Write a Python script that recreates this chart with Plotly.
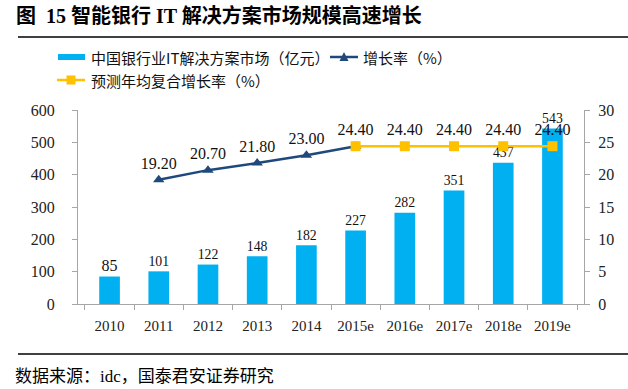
import plotly.graph_objects as go

years = ["2010", "2011", "2012", "2013", "2014", "2015e", "2016e", "2017e", "2018e", "2019e"]
market = [85, 101, 122, 148, 182, 227, 282, 351, 437, 543]
growth = [None, 19.20, 20.70, 21.80, 23.00, 24.40, None, None, None, None]
cagr = [None, None, None, None, None, 24.40, 24.40, 24.40, 24.40, 24.40]

W, H = 628, 389
L, R, T, B = 78, 44, 110, 85
PW, PH = W - L - R, H - T - B

def px(x):
    return (x - L) / PW

def py(y):
    return (H - B - y) / PH

FONT = "Liberation Serif"
CJK = "Noto Sans CJK SC"
BAR_C = "#00B0F0"
NAVY = "#1F497D"
GOLD = "#FFC000"
AX = "#A6A6A6"

fig = go.Figure()
fig.add_trace(go.Bar(
    x=years, y=market, marker=dict(color=BAR_C, line=dict(width=0)),
    text=[str(v) for v in market], textposition="outside", cliponaxis=False,
    textfont=dict(family=FONT, size=16, color="#111"), showlegend=False,
))
fig.add_trace(go.Scatter(
    x=years, y=growth, yaxis="y2", mode="lines+markers+text",
    line=dict(color=NAVY, width=2.5), marker=dict(symbol="triangle-up", size=10, color=NAVY),
    text=[("%.2f" % v) if (v is not None and i < 5) else "" for i, v in enumerate(growth)],
    textposition="top center", textfont=dict(family=FONT, size=16, color="#111"),
    cliponaxis=False, showlegend=False,
))
fig.add_trace(go.Scatter(
    x=years, y=cagr, yaxis="y2", mode="lines+markers+text",
    line=dict(color=GOLD, width=2.5), marker=dict(symbol="square", size=10, color=GOLD),
    text=[("%.2f" % v) if v is not None else "" for v in cagr],
    textposition="top center", textfont=dict(family=FONT, size=16, color="#111"),
    cliponaxis=False, showlegend=False,
))

shapes = [
    dict(type="line", xref="paper", yref="paper", x0=px(18), x1=px(628), y0=py(37), y1=py(37),
         line=dict(color="#000", width=1.5)),
    dict(type="line", xref="paper", yref="paper", x0=px(18), x1=px(628), y0=py(354), y1=py(354),
         line=dict(color="#000", width=1.5)),
    dict(type="rect", xref="paper", yref="paper", x0=px(58), x1=px(85), y0=py(60), y1=py(54),
         fillcolor=BAR_C, line=dict(width=0)),
    dict(type="line", xref="paper", yref="paper", x0=px(330), x1=px(358), y0=py(57), y1=py(57),
         line=dict(color=NAVY, width=2.5)),
    dict(type="line", xref="paper", yref="paper", x0=px(57), x1=px(85), y0=py(80), y1=py(80),
         line=dict(color=GOLD, width=2.5)),
    dict(type="rect", xref="paper", yref="paper", x0=px(66.5), x1=px(75.5), y0=py(84.5), y1=py(75.5),
         fillcolor=GOLD, line=dict(width=0)),
    dict(type="path", xref="paper", yref="paper",
         path="M %f %f L %f %f L %f %f Z" % (px(339.5), py(61), px(348.5), py(61), px(344), py(52)),
         fillcolor=NAVY, line=dict(width=0)),
]

annotations = [
    dict(text="<b>图  15 智能银行 IT 解决方案市场规模高速增长</b>", xref="paper", yref="paper",
         x=px(14), y=py(16), xanchor="left", yanchor="middle", showarrow=False,
         font=dict(family=FONT + ", " + CJK, size=20, color="#000")),
    dict(text="数据来源：idc，国泰君安证券研究", xref="paper", yref="paper",
         x=px(13), y=py(376), xanchor="left", yanchor="middle", showarrow=False,
         font=dict(family=FONT + ", " + CJK, size=17, color="#000")),
    dict(text="中国银行业IT解决方案市场（亿元）", xref="paper", yref="paper",
         x=px(89), y=py(57), xanchor="left", yanchor="middle", showarrow=False,
         font=dict(family=CJK, size=15, color="#111")),
    dict(text="增长率（%）", xref="paper", yref="paper",
         x=px(361), y=py(57), xanchor="left", yanchor="middle", showarrow=False,
         font=dict(family=CJK, size=15, color="#111")),
    dict(text="预测年均复合增长率（%）", xref="paper", yref="paper",
         x=px(89), y=py(80), xanchor="left", yanchor="middle", showarrow=False,
         font=dict(family=CJK, size=15, color="#111")),
]

fig.update_layout(
    width=W, height=H, margin=dict(l=L, r=R, t=T, b=B, pad=0),
    paper_bgcolor="white", plot_bgcolor="white",
    bargap=0.58, showlegend=False,
    font=dict(family=FONT, size=15, color="#222"),
    xaxis=dict(type="category", showline=True, linecolor=AX, linewidth=1,
               ticks="outside", tickson="boundaries", ticklen=5, tickcolor=AX,
               ticklabelstandoff=8,
               showgrid=False, tickfont=dict(family=FONT, size=15, color="#222")),
    yaxis=dict(range=[0, 600], dtick=100, showline=True, linecolor=AX, linewidth=1,
               ticks="outside", ticklen=5, tickcolor=AX, showgrid=False, zeroline=False,
               ticklabelstandoff=14,
               tickfont=dict(family=FONT, size=16, color="#222")),
    yaxis2=dict(range=[0, 30], dtick=5, overlaying="y", side="right", showline=True,
                linecolor=AX, linewidth=1, ticks="outside", ticklen=5, tickcolor=AX,
                showgrid=False, zeroline=False, ticklabelstandoff=5,
                tickfont=dict(family=FONT, size=16, color="#222")),
    shapes=shapes, annotations=annotations,
)

fig.write_html("out.html", config={"displayModeBar": False},
               post_script="document.body.style.margin='0';document.body.style.padding='0';")
